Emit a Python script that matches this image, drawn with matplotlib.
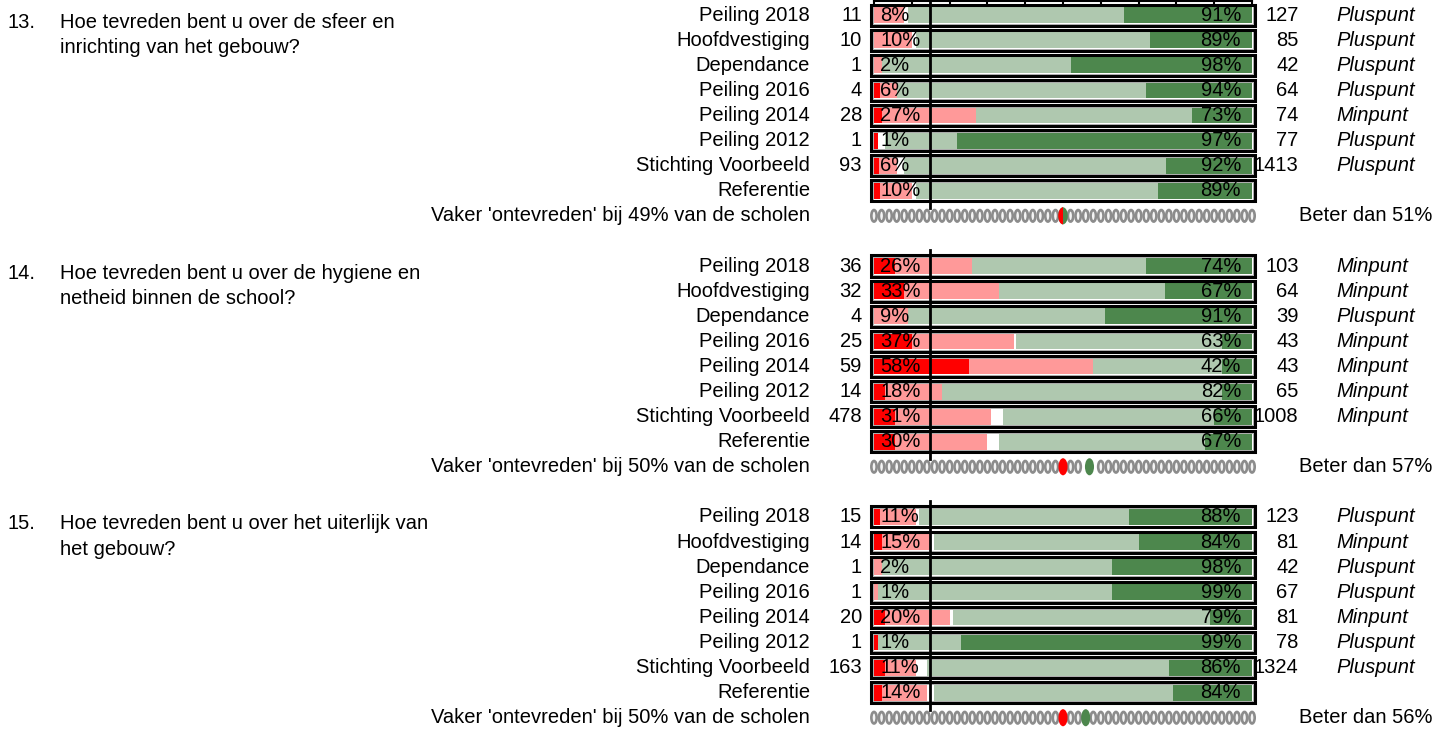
import matplotlib
matplotlib.use("Agg")
import matplotlib.pyplot as plt
from matplotlib.patches import Rectangle, Ellipse

plt.rcParams['font.family'] = ['Liberation Sans', 'DejaVu Sans']

# ---------------- data ----------------
groups = ["Peiling 2018", "Hoofdvestiging", "Dependance", "Peiling 2016",
          "Peiling 2014", "Peiling 2012", "Stichting Voorbeeld", "Referentie"]

q_numbers = ["13.", "14.", "15."]
q_texts = [
    "Hoe tevreden bent u over de sfeer en\ninrichting van het gebouw?",
    "Hoe tevreden bent u over de hygiene en\nnetheid binnen de school?",
    "Hoe tevreden bent u over het uiterlijk van\nhet gebouw?",
]

# Question 13
q13_red = [0, 0, 0, 1.5, 2, 1, 1.3, 1.5]
q13_pink = [8, 10, 2, 4.5, 25, 0, 4.7, 8.5]
q13_white = [1, 1, 0, 0, 0, 2, 2, 1]
q13_lgreen = [57, 62, 50, 66, 57, 19, 69.3, 64]
q13_dgreen = [34, 27, 48, 28, 16, 78, 22.7, 25]
q13_neg_lbl = [8, 10, 2, 6, 27, 1, 6, 10]
q13_pos_lbl = [91, 89, 98, 94, 73, 97, 92, 89]
q13_n_neg = [11, 10, 1, 4, 28, 1, 93, None]
q13_n_pos = [127, 85, 42, 64, 74, 77, 1413, None]
q13_verdict = ["Pluspunt", "Pluspunt", "Pluspunt", "Pluspunt", "Minpunt",
               "Pluspunt", "Pluspunt", None]
q13_ontevreden = 49
q13_beter = 51

# Question 14
q14_red = [5.5, 8, 0, 10, 25, 3, 5.5, 5.5]
q14_pink = [20.5, 25, 9, 27, 33, 15, 25.5, 24.5]
q14_white = [0, 0, 0, 0.5, 0, 0, 3, 3]
q14_lgreen = [46, 44, 52, 54.5, 34, 74, 56, 54.5]
q14_dgreen = [28, 23, 39, 8, 8, 8, 10, 12.5]
q14_neg_lbl = [26, 33, 9, 37, 58, 18, 31, 30]
q14_pos_lbl = [74, 67, 91, 63, 42, 82, 66, 67]
q14_n_neg = [36, 32, 4, 25, 59, 14, 478, None]
q14_n_pos = [103, 64, 39, 43, 43, 65, 1008, None]
q14_verdict = ["Minpunt", "Minpunt", "Pluspunt", "Minpunt", "Minpunt",
               "Minpunt", "Minpunt", None]
q14_ontevreden = 50
q14_beter = 57

# Question 15
q15_red = [1.5, 2, 0, 0, 3, 1, 3, 2]
q15_pink = [9.5, 13, 2, 1, 17, 0, 8, 12]
q15_white = [1, 1, 0, 0, 1, 0, 3, 2]
q15_lgreen = [55.5, 54, 61, 62, 68, 22, 64, 63]
q15_dgreen = [32.5, 30, 37, 37, 11, 77, 22, 21]
q15_neg_lbl = [11, 15, 2, 1, 20, 1, 11, 14]
q15_pos_lbl = [88, 84, 98, 99, 79, 99, 86, 84]
q15_n_neg = [15, 14, 1, 1, 20, 1, 163, None]
q15_n_pos = [123, 81, 42, 67, 81, 78, 1324, None]
q15_verdict = ["Pluspunt", "Minpunt", "Pluspunt", "Pluspunt", "Minpunt",
               "Pluspunt", "Pluspunt", None]
q15_ontevreden = 50
q15_beter = 56

# ---------------- style ----------------
C_RED = "#FF0000"
C_PINK = "#FF9999"
C_WHITE = "#FFFFFF"
C_LGREEN = "#AFC8AF"
C_DGREEN = "#4D874D"
C_DOT = "#8C8C8C"
FS = 14.5

blocks = [
    (q13_red, q13_pink, q13_white, q13_lgreen, q13_dgreen, q13_neg_lbl, q13_pos_lbl,
     q13_n_neg, q13_n_pos, q13_verdict, q13_ontevreden, q13_beter),
    (q14_red, q14_pink, q14_white, q14_lgreen, q14_dgreen, q14_neg_lbl, q14_pos_lbl,
     q14_n_neg, q14_n_pos, q14_verdict, q14_ontevreden, q14_beter),
    (q15_red, q15_pink, q15_white, q15_lgreen, q15_dgreen, q15_neg_lbl, q15_pos_lbl,
     q15_n_neg, q15_n_pos, q15_verdict, q15_ontevreden, q15_beter),
]

fig = plt.figure(figsize=(14.35, 7.29), dpi=100)
ax = fig.add_axes([0, 0, 1, 1])
ax.set_xlim(-231.2, 148.4)
ax.set_ylim(28.45, -0.6)
ax.axis("off")

BAR_H = 0.64
FRAME_H = 0.84

# top ruler
ax.plot([0, 100], [-0.58, -0.58], color="black", lw=1.5, clip_on=False)
for t in range(0, 101, 10):
    ax.plot([t, t], [-0.6, -0.45], color="black", lw=1.5)

for b, (red, pink, white, lg, dg, neg_lbl, pos_lbl, n_neg, n_pos, verdict,
        ontev, beter) in enumerate(blocks):
    base = b * 10
    rows = [base + i for i in range(len(groups))]

    # question text
    ax.text(-229.1, base + 0.28, q_numbers[b], fontsize=FS, ha="left", va="center")
    for li, line in enumerate(q_texts[b].split("\n")):
        ax.text(-215.3, base + 0.28 + li * 1.0, line, fontsize=FS, ha="left", va="center")

    # stacked bars
    left = [0.0] * len(groups)
    for vals, col in [(red, C_RED), (pink, C_PINK), (white, C_WHITE),
                      (lg, C_LGREEN), (dg, C_DGREEN)]:
        ax.barh(rows, vals, left=left, height=BAR_H, color=col, edgecolor="none")
        left = [l + v for l, v in zip(left, vals)]

    for i, y in enumerate(rows):
        ax.add_patch(Rectangle((-0.3, y - BAR_H / 2 - 0.03), 100.6, BAR_H + 0.06,
                               fill=False, edgecolor="#B0B0B0", lw=0.7))
        ax.add_patch(Rectangle((-0.7, y - FRAME_H / 2), 101.4, FRAME_H,
                               fill=False, edgecolor="black", lw=2.2))
        ax.text(-16.9, y, groups[i], fontsize=FS, ha="right", va="center")
        if n_neg[i] is not None:
            ax.text(-3.2, y, str(n_neg[i]), fontsize=FS, ha="right", va="center")
        if n_pos[i] is not None:
            ax.text(112.3, y, str(n_pos[i]), fontsize=FS, ha="right", va="center")
        if verdict[i] is not None:
            ax.text(122.2, y, verdict[i], fontsize=FS, ha="left", va="center",
                    style="italic")
        ax.text(1.6, y, f"{neg_lbl[i]}%", fontsize=FS, ha="left", va="center")
        ax.text(97.1, y, f"{pos_lbl[i]}%", fontsize=FS, ha="right", va="center")

    # vertical reference line
    y_top = -0.6 if b == 0 else base - 0.64
    ax.plot([14.8, 14.8], [y_top, base + 7.68], color="black", lw=2.0)

    # dots row
    dy = base + 8
    ax.text(-16.9, dy, f"Vaker 'ontevreden' bij {ontev}% van de scholen",
            fontsize=FS, ha="right", va="center")
    ax.text(112.4, dy, f"Beter dan {beter}%", fontsize=FS, ha="left", va="center")
    close = abs(beter - ontev) < 3
    marks = [(ontev + beter) / 2] if close else [ontev, beter]
    for k in range(51):
        x = 2 * k
        if any(abs(x - m) < 1.5 for m in marks):
            continue
        ax.add_patch(Ellipse((x, dy), 1.4, 0.46, facecolor="#F4F4F4",
                             edgecolor=C_DOT, lw=1.9))
    if close:
        m = marks[0]
        ax.add_patch(Ellipse((m, dy), 2.5, 0.68, facecolor=C_DGREEN, edgecolor="none"))
        half = Ellipse((m, dy), 2.5, 0.68, facecolor=C_RED, edgecolor="none")
        ax.add_patch(half)
        clip = Rectangle((m - 1.6, dy - 0.4), 1.5, 0.8, transform=ax.transData)
        half.set_clip_path(clip)
    else:
        ax.add_patch(Ellipse((ontev, dy), 2.4, 0.68, facecolor=C_RED, edgecolor="none"))
        ax.add_patch(Ellipse((beter, dy), 2.4, 0.68, facecolor=C_DGREEN, edgecolor="none"))

fig.savefig("out.png", dpi=100)
